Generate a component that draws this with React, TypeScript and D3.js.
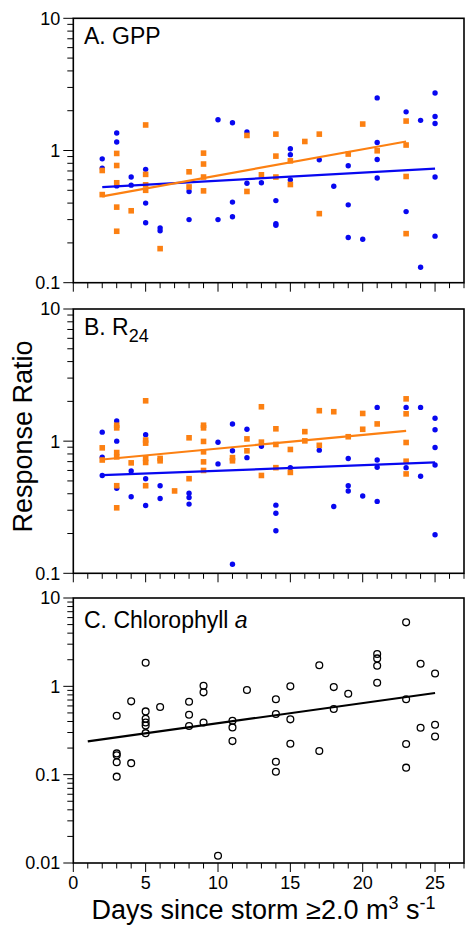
import React from 'react';
import * as d3 from 'd3';

// [day, response ratio]
const gppBlue: [number, number][] = [
  [2, 0.865], [2, 0.736], [3, 1.355], [3, 1.16], [3, 0.54], [4, 0.63], [4, 0.547],
  [5, 0.72], [5, 0.4], [5, 0.284], [6, 0.26], [6, 0.247], [8, 0.49], [8, 0.3],
  [10, 1.71], [10, 0.3], [11, 1.62], [11, 0.407], [11, 0.315], [12, 1.38], [12, 0.566],
  [13, 0.57], [14, 0.418], [14, 0.28], [14, 0.272], [15, 1.03], [15, 0.93], [15, 0.6],
  [17, 0.85], [18, 0.537], [19, 0.766], [19, 0.388], [19, 0.22], [20, 0.213],
  [21, 2.5], [21, 1.15], [21, 0.855], [21, 0.62], [23, 1.96], [23, 0.345],
  [24, 1.69], [24, 0.131], [25, 2.72], [25, 1.81], [25, 1.6], [25, 0.63], [25, 0.225],
];
const gppOrange: [number, number][] = [
  [2, 0.706], [2, 0.464], [3, 0.95], [3, 0.77], [3, 0.57], [3, 0.373], [3, 0.245],
  [4, 0.35], [5, 1.56], [5, 0.66], [5, 0.55], [5, 0.5], [6, 0.181], [8, 0.69], [8, 0.53],
  [9, 0.955], [9, 0.79], [9, 0.63], [9, 0.495], [12, 1.3], [12, 0.49], [13, 0.655],
  [14, 1.33], [14, 0.907], [14, 0.63], [15, 0.835], [15, 0.553], [16, 1.17], [17, 1.33],
  [17, 0.333], [19, 0.94], [20, 1.585], [21, 0.995], [23, 1.67], [23, 1.1], [23, 0.636],
  [23, 0.235],
];
const r24Blue: [number, number][] = [
  [2, 1.17], [2, 0.757], [2, 0.55], [3, 1.42], [3, 1.0], [3, 0.44], [4, 0.595], [4, 0.38],
  [5, 1.12], [5, 0.52], [5, 0.326], [6, 0.46], [6, 0.368], [8, 0.404], [8, 0.375], [8, 0.334],
  [10, 0.98], [10, 0.673], [11, 1.35], [11, 0.845], [11, 0.117], [12, 1.23], [12, 0.75],
  [13, 0.916], [14, 0.328], [14, 0.285], [14, 0.21], [15, 0.63], [17, 0.855], [18, 0.32],
  [19, 0.74], [19, 0.46], [19, 0.42], [20, 0.385], [21, 1.8], [21, 0.72], [21, 0.635],
  [21, 0.35], [23, 1.8], [23, 0.63], [24, 1.8], [24, 0.543], [25, 1.49], [25, 1.22],
  [25, 0.896], [25, 0.66], [25, 0.196],
];
const r24Orange: [number, number][] = [
  [2, 0.89], [2, 0.72], [3, 1.32], [3, 1.26], [3, 0.82], [3, 0.76], [3, 0.46], [3, 0.313],
  [4, 0.685], [5, 2.02], [5, 1.02], [5, 0.966], [5, 0.74], [5, 0.69], [5, 0.46],
  [6, 0.74], [6, 0.71], [7, 0.42], [8, 1.06], [8, 0.52], [9, 1.32], [9, 1.26], [9, 0.995],
  [9, 0.83], [9, 0.697], [9, 0.6], [11, 0.75], [11, 0.71], [12, 1.04], [12, 0.845],
  [13, 1.82], [13, 0.983], [13, 0.55], [14, 1.24], [14, 0.944], [14, 0.63], [15, 0.865],
  [15, 0.58], [16, 1.18], [16, 1.005], [17, 1.7], [17, 0.93], [18, 1.67], [19, 1.08],
  [20, 1.62], [20, 1.23], [21, 1.35], [23, 2.09], [23, 1.61], [23, 0.977], [23, 0.705],
  [23, 0.565],
];
const chlA: [number, number][] = [
  [3, 0.465], [3, 0.174], [3, 0.166], [3, 0.138], [3, 0.095], [4, 0.676], [4, 0.135],
  [5, 1.85], [5, 0.52], [5, 0.43], [5, 0.39], [5, 0.36], [5, 0.295], [6, 0.583],
  [8, 0.67], [8, 0.477], [8, 0.355], [9, 1.016], [9, 0.855], [9, 0.39], [10, 0.0121],
  [11, 0.408], [11, 0.343], [11, 0.24], [12, 0.908], [14, 0.713], [14, 0.486], [14, 0.14],
  [14, 0.108], [15, 1.0], [15, 0.423], [15, 0.224], [17, 1.73], [17, 0.185], [18, 0.98],
  [18, 0.553], [19, 0.825], [21, 2.32], [21, 2.07], [21, 1.71], [21, 1.1], [23, 5.3],
  [23, 0.713], [23, 0.222], [23, 0.12], [24, 1.8], [24, 0.34], [25, 1.4], [25, 0.368],
  [25, 0.27],
];

// regression line end points
const gppBlueFit: [number, number][] = [[2, 0.528], [25, 0.73]];
const gppOrangeFit: [number, number][] = [[2, 0.45], [23, 1.17]];
const r24BlueFit: [number, number][] = [[2, 0.553], [25, 0.69]];
const r24OrangeFit: [number, number][] = [[2, 0.726], [23, 1.197]];
const chlFit: [number, number][] = [[1, 0.238], [25, 0.84]];

const xTicks = d3.range(0, 28);
const xLabels = [0, 5, 10, 15, 20, 25];

const BLUE = '#0808f0';
const ORANGE = '#fc8012';
const FONT = '"Liberation Sans", Arial, Helvetica, sans-serif';

const W = 465;
const H = 932;
const left = 73.3;
const right = 464;
const TICK_FS = 18;

const x = d3.scaleLinear().domain([0, 27]).range([left, right]);

type PanelProps = {
  top: number;
  bottom: number;
  domain: [number, number];
  showX: boolean;
  children: (xs: any, ys: any) => React.ReactNode;
};

function Panel({ top, bottom, domain, showX, children }: PanelProps) {
  const y = d3.scaleLog().domain(domain).range([bottom, top]);
  const all = y.ticks();
  const majors = [0.01, 0.1, 1, 10].filter(v => v >= domain[0] && v <= domain[1]);
  return (
    <g>
      {all.map((t, i) => {
        const yy = y(t);
        const isMajor = majors.some(m => Math.abs(m - t) / m < 1e-6);
        return <line key={'yt' + i} x1={left - (isMajor ? 10 : 6)} x2={left} y1={yy} y2={yy} stroke="#000" strokeWidth={1} />;
      })}
      {majors.map(m => (
        <text key={'yl' + m} x={left - 13} y={y(m) + 6.4} textAnchor="end" fontSize={TICK_FS} fontFamily={FONT}>
          {String(m)}
        </text>
      ))}
      {xTicks.map(t => (
        <line key={'xt' + t} x1={x(t)} x2={x(t)} y1={bottom} y2={bottom + (t % 5 === 0 ? 9 : 5.5)} stroke="#000" strokeWidth={1} />
      ))}
      {showX && xLabels.map(t => (
        <text key={'xl' + t} x={x(t)} y={bottom + 26} textAnchor="middle" fontSize={TICK_FS} fontFamily={FONT}>
          {t}
        </text>
      ))}
      <rect x={left} y={top} width={right - left} height={bottom - top} fill="none" stroke="#000" strokeWidth={1.6} />
      {children(x, y)}
    </g>
  );
}

const line = (xs: any, ys: any) =>
  d3.line<[number, number]>().x(d => xs(d[0])).y(d => ys(d[1]));

export default function App() {
  const dots = (data: [number, number][], xs: any, ys: any, color: string) =>
    data.map((d, i) => <circle key={i} cx={xs(d[0])} cy={ys(d[1])} r={2.7} fill={color} />);
  const squares = (data: [number, number][], xs: any, ys: any, color: string) =>
    data.map((d, i) => <rect key={i} x={xs(d[0]) - 2.8} y={ys(d[1]) - 2.8} width={5.6} height={5.6} fill={color} />);

  return (
    <div style={{ position: 'absolute', left: 0, top: 0 }}>
      <svg width={W} height={H} style={{ display: 'block', background: '#fff' }}>
        <Panel top={18.3} bottom={282.7} domain={[0.1, 10]} showX={false}>
          {(xs, ys) => (
            <g>
              {dots(gppBlue, xs, ys, BLUE)}
              {squares(gppOrange, xs, ys, ORANGE)}
              <path d={line(xs, ys)(gppBlueFit) || ''} stroke={BLUE} strokeWidth={2.2} fill="none" />
              <path d={line(xs, ys)(gppOrangeFit) || ''} stroke={ORANGE} strokeWidth={2.2} fill="none" />
              <text x={84} y={44} fontSize={23} fontFamily={FONT}>A. GPP</text>
            </g>
          )}
        </Panel>
        <Panel top={309} bottom={573.3} domain={[0.1, 10]} showX={false}>
          {(xs, ys) => (
            <g>
              {dots(r24Blue, xs, ys, BLUE)}
              {squares(r24Orange, xs, ys, ORANGE)}
              <path d={line(xs, ys)(r24BlueFit) || ''} stroke={BLUE} strokeWidth={2.2} fill="none" />
              <path d={line(xs, ys)(r24OrangeFit) || ''} stroke={ORANGE} strokeWidth={2.2} fill="none" />
              <text x={84} y={335} fontSize={23} fontFamily={FONT}>
                B. R<tspan fontSize={18} dy={7}>24</tspan>
              </text>
            </g>
          )}
        </Panel>
        <Panel top={598} bottom={863} domain={[0.01, 10]} showX={true}>
          {(xs, ys) => (
            <g>
              {chlA.map((d, i) => (
                <circle key={i} cx={xs(d[0])} cy={ys(d[1])} r={3.4} fill="none" stroke="#000" strokeWidth={1.3} />
              ))}
              <path d={line(xs, ys)(chlFit) || ''} stroke="#000" strokeWidth={2.2} fill="none" />
              <text x={84} y={628} fontSize={23} fontFamily={FONT}>
                C. Chlorophyll <tspan fontStyle="italic">a</tspan>
              </text>
            </g>
          )}
        </Panel>
        <text transform="translate(32,436.5) rotate(-90)" textAnchor="middle" fontSize={27} fontFamily={FONT}>
          Response Ratio
        </text>
        <text x={263.5} y={919} textAnchor="middle" fontSize={27} fontFamily={FONT}>
          Days since storm ≥2.0 m<tspan fontSize={18} dy={-10}>3</tspan>
          <tspan dy={10}> s</tspan>
          <tspan fontSize={18} dy={-10}>-1</tspan>
        </text>
      </svg>
    </div>
  );
}
